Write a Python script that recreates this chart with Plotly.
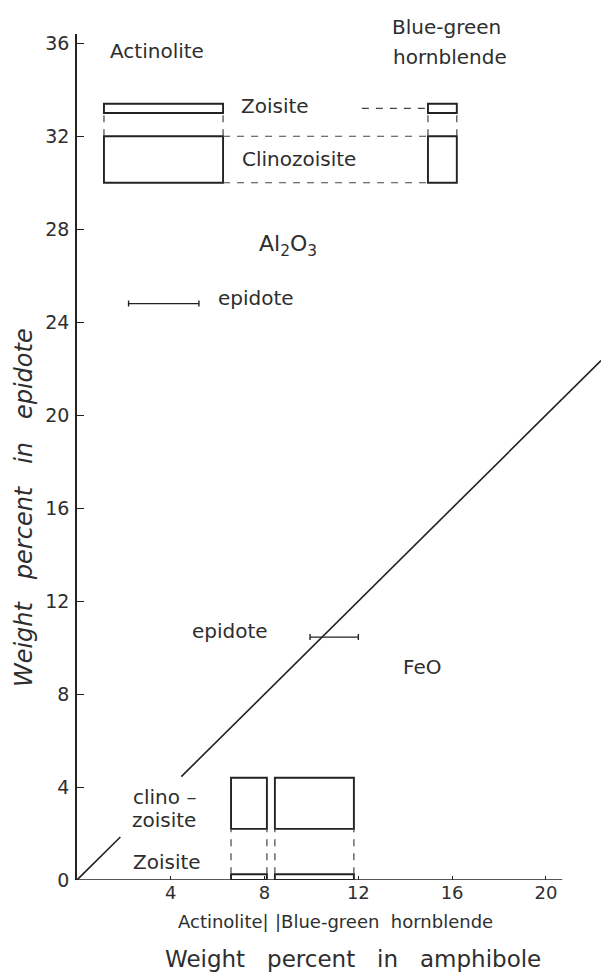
import plotly.graph_objects as go

# Composition ranges (weight percent)
# Upper panel: Al2O3 in epidote vs amphibole host
act_al_x = [1.15, 6.23]          # actinolite range
bgh_al_x = [14.97, 16.2]         # blue-green hornblende range
zoisite_al_y = [33.0, 33.4]
clinozoisite_al_y = [30.0, 32.0]
epidote_al_x = [2.2, 5.2]
epidote_al_y = 24.8

# Lower panel: FeO in epidote vs amphibole host
act_fe_x = [6.57, 8.1]
bgh_fe_x = [8.44, 11.81]
clinozoisite_fe_y = [2.2, 4.4]
zoisite_fe_y = [0.0, 0.25]
epidote_fe_x = [9.94, 12.0]
epidote_fe_y = 10.45

# 1:1 reference line, broken around the "clino-zoisite" label
diag_a = [0.0, 1.85]
diag_b = [4.45, 22.35]

y_ticks = [0, 4, 8, 12, 16, 20, 24, 28, 32, 36]
x_ticks = [4, 8, 12, 16, 20]
x_axis_end = 20.7

INK = "#222222"
TXT = "#2e2e2e"
FONT = "DejaVu Sans"

fig = go.Figure()

# diagonal line
fig.add_trace(go.Scatter(
    x=diag_a + [None] + diag_b, y=diag_a + [None] + diag_b,
    mode="lines", line=dict(color=INK, width=1.6),
    hoverinfo="skip", showlegend=False, cliponaxis=False))

# epidote ranges as horizontal bars with end caps
for xr, yv in [(epidote_al_x, epidote_al_y), (epidote_fe_x, epidote_fe_y)]:
    mid = (xr[0] + xr[1]) / 2
    half = (xr[1] - xr[0]) / 2
    fig.add_trace(go.Scatter(
        x=[mid], y=[yv], mode="markers",
        marker=dict(size=1, color="rgba(0,0,0,0)"),
        error_x=dict(type="data", array=[half], visible=True,
                     thickness=1.4, width=3, color=INK),
        hoverinfo="skip", showlegend=False))

shapes = []


def rect(xr, yr):
    shapes.append(dict(type="rect", xref="x", yref="y",
                       x0=xr[0], x1=xr[1], y0=yr[0], y1=yr[1],
                       line=dict(color=INK, width=1.9)))


def dashed(x0, y0, x1, y1):
    shapes.append(dict(type="line", xref="x", yref="y",
                       x0=x0, y0=y0, x1=x1, y1=y1,
                       line=dict(color="#444444", width=1.2, dash="7px,7px")))


# Al2O3 boxes
for xr in (act_al_x, bgh_al_x):
    rect(xr, zoisite_al_y)
    rect(xr, clinozoisite_al_y)
    for xv in xr:
        dashed(xv, clinozoisite_al_y[1], xv, zoisite_al_y[0])
dashed(act_al_x[1], clinozoisite_al_y[1], bgh_al_x[0], clinozoisite_al_y[1])
dashed(act_al_x[1], clinozoisite_al_y[0], bgh_al_x[0], clinozoisite_al_y[0])
dashed(12.15, sum(zoisite_al_y) / 2, bgh_al_x[0], sum(zoisite_al_y) / 2)

# FeO boxes
for xr in (act_fe_x, bgh_fe_x):
    rect(xr, zoisite_fe_y)
    rect(xr, clinozoisite_fe_y)
    for xv in xr:
        dashed(xv, zoisite_fe_y[1], xv, clinozoisite_fe_y[0])

# x axis line (stops short of the plot edge)
shapes.append(dict(type="line", xref="x", yref="y", x0=0, y0=0,
                   x1=x_axis_end, y1=0, line=dict(color=INK, width=1.6)))

annotations = []


def label(text, x, y, size=20, xanchor="center", ref="data", **kw):
    xr, yr = ("x", "y") if ref == "data" else ("paper", "paper")
    annotations.append(dict(text=text, x=x, y=y, xref=xr, yref=yr,
                            showarrow=False, xanchor=xanchor, yanchor="middle",
                            font=dict(family=FONT, size=size, color=TXT), **kw))


label("Actinolite", 3.41, 35.66)
label("Blue-green", 0.706, 1.0083, ref="paper")
label("hornblende", 15.9, 35.42)
label("Zoisite", 8.44, 33.29)
label("Clinozoisite", 9.47, 31.01)
label("Al<sub>2</sub>O<sub>3</sub>", 9.0, 27.3, size=22)
label("epidote", 7.63, 25.03)
label("epidote", 6.52, 10.71)
label("FeO", 14.71, 9.16, size=20)
label("clino –", 3.75, 3.57)
label("zoisite", 3.71, 2.58)
label("Zoisite", 3.84, 0.77)
label("Actinolite|", 0.371, -0.0495, size=18, xanchor="right", ref="paper")
label("|Blue-green&nbsp;&nbsp;hornblende", 0.374, -0.0495, size=18,
      xanchor="left", ref="paper")
label("Weight&nbsp;&nbsp;&nbsp;percent&nbsp;&nbsp;&nbsp;in&nbsp;&nbsp;&nbsp;amphibole",
      0.527, -0.0935, size=23, ref="paper")
label("<i>Weight&nbsp;&nbsp;&nbsp;percent&nbsp;&nbsp;&nbsp;in&nbsp;&nbsp;&nbsp;epidote</i>",
      -0.101, 0.4397, size=24, ref="paper", textangle=-90)

fig.update_layout(
    width=601, height=974,
    margin=dict(l=77, r=0, t=34, b=94, pad=0),
    paper_bgcolor="white", plot_bgcolor="white",
    shapes=shapes, annotations=annotations,
    showlegend=False,
    xaxis=dict(range=[0, 22.35], tickvals=x_ticks, ticktext=[str(v) for v in x_ticks],
               ticks="inside", ticklen=4, tickwidth=1.4, tickcolor=INK,
               showline=False, showgrid=False, zeroline=False,
               tickfont=dict(family=FONT, size=18, color=TXT)),
    yaxis=dict(range=[0, 36.4], tickvals=y_ticks, ticktext=[str(v) for v in y_ticks],
               ticks="inside", ticklen=7, tickwidth=1.4, tickcolor=INK,
               showline=True, linecolor=INK, linewidth=1.6,
               showgrid=False, zeroline=False, ticklabelstandoff=2,
               tickfont=dict(family=FONT, size=19, color=TXT)),
)

fig.write_html("out.html")
